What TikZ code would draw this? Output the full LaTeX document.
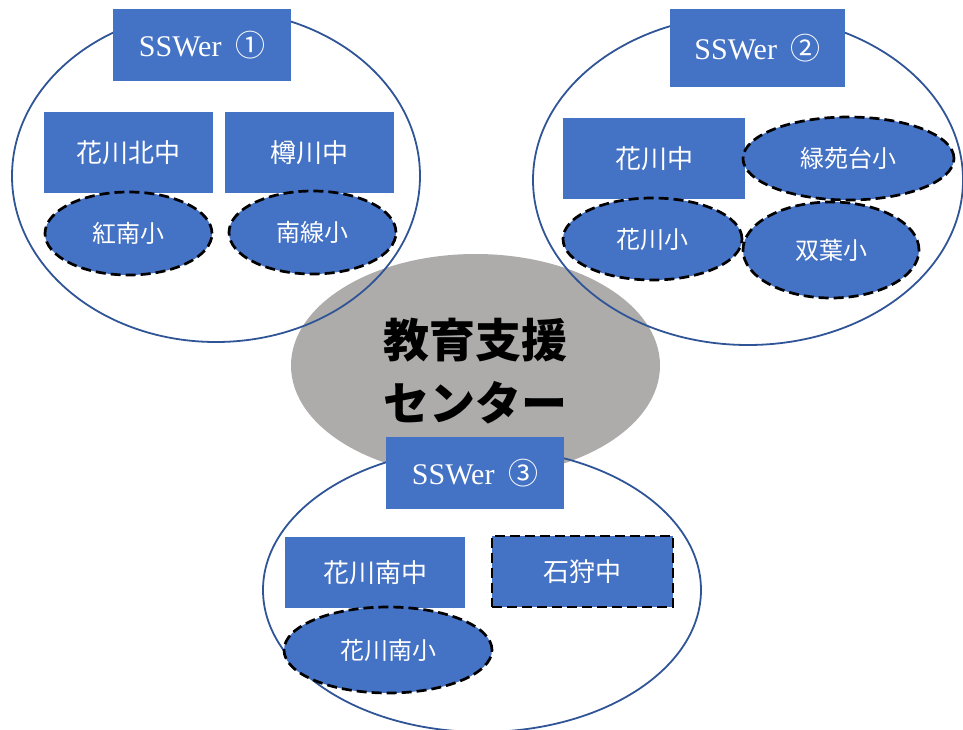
\documentclass[tikz,border=0pt]{standalone}
\usepackage{fontspec}
\setmainfont{Liberation Serif}
\newfontfamily\jp{Noto Sans CJK JP}
\usetikzlibrary{shapes.geometric}
\definecolor{boxblue}{HTML}{4472C4}
\definecolor{ringblue}{HTML}{2F5597}
\definecolor{centergrey}{HTML}{AEABAB}
\tikzset{
  ring/.style={ellipse, draw=ringblue, line width=1.8pt, inner sep=0pt},
  ssw/.style={rectangle, fill=boxblue, text=white, inner sep=0pt, font=\fontsize{30}{34}\selectfont},
  school/.style={rectangle, fill=boxblue, text=white, inner sep=0pt, font=\jp\fontsize{26}{30}\selectfont},
  dashbox/.style={school, draw=black, line width=2.7pt, dash pattern=on 10pt off 5pt},
  elem/.style={ellipse, fill=boxblue, text=white, draw=black, line width=2.7pt, dash pattern=on 10pt off 5pt, inner sep=0pt, font=\jp\fontsize{24}{28}\selectfont},
}
\newcommand{\sswtext}[1]{SSWer\hspace{0.45em}{\jp #1}}
\begin{document}
\begin{tikzpicture}[x=1pt,y=-1pt]
\useasboundingbox (0,0) rectangle (963,729);
% centre
\node[ellipse, fill=centergrey, minimum width=369pt, minimum height=223pt, inner sep=0pt] (center) at (475.5,365.5) {};
\node[font=\jp\bfseries\fontsize{46}{63}\selectfont, align=center, text=black] (centertext) at (475.5,371) {教育支援\\センター};
% rings
\node[ring, minimum width=408pt, minimum height=332pt] (ring1) at (216,176) {};
\node[ring, minimum width=430pt, minimum height=330pt] (ring2) at (748,180) {};
\node[ring, minimum width=438pt, minimum height=284pt] (ring3) at (482,590) {};
% group 1
\node[ssw, minimum width=178pt, minimum height=72pt] (s1) at (202,45) {\sswtext{①}};
\node[school, minimum width=169pt, minimum height=81pt] (hk) at (128.5,152.5) {花川北中};
\node[school, minimum width=169pt, minimum height=81pt] (tk) at (309.5,152.5) {樽川中};
\node[elem, minimum width=167pt, minimum height=83pt] (kn) at (128.5,233.5) {紅南小};
\node[elem, minimum width=167pt, minimum height=83pt] (ns) at (312.5,232.5) {南線小};
% group 2
\node[ssw, minimum width=175pt, minimum height=78pt] (s2) at (757.5,48) {\sswtext{②}};
\node[school, minimum width=182pt, minimum height=81pt] (hc) at (654,158.5) {花川中};
\node[elem, minimum width=211pt, minimum height=83pt] (re) at (848.5,158.5) {緑苑台小};
\node[elem, minimum width=179pt, minimum height=82pt] (hs) at (652.5,239) {花川小};
\node[elem, minimum width=176pt, minimum height=96pt] (fb) at (831,250) {双葉小};
% group 3
\node[ssw, minimum width=178pt, minimum height=72pt] (s3) at (475,473) {\sswtext{③}};
\node[school, minimum width=180pt, minimum height=71pt] (hm) at (375,572.5) {花川南中};
\node[dashbox, minimum width=181pt, minimum height=71pt] (ik) at (582.5,571.5) {石狩中};
\node[elem, minimum width=208pt, minimum height=86pt] (hms) at (388,650) {花川南小};
\end{tikzpicture}
\end{document}
